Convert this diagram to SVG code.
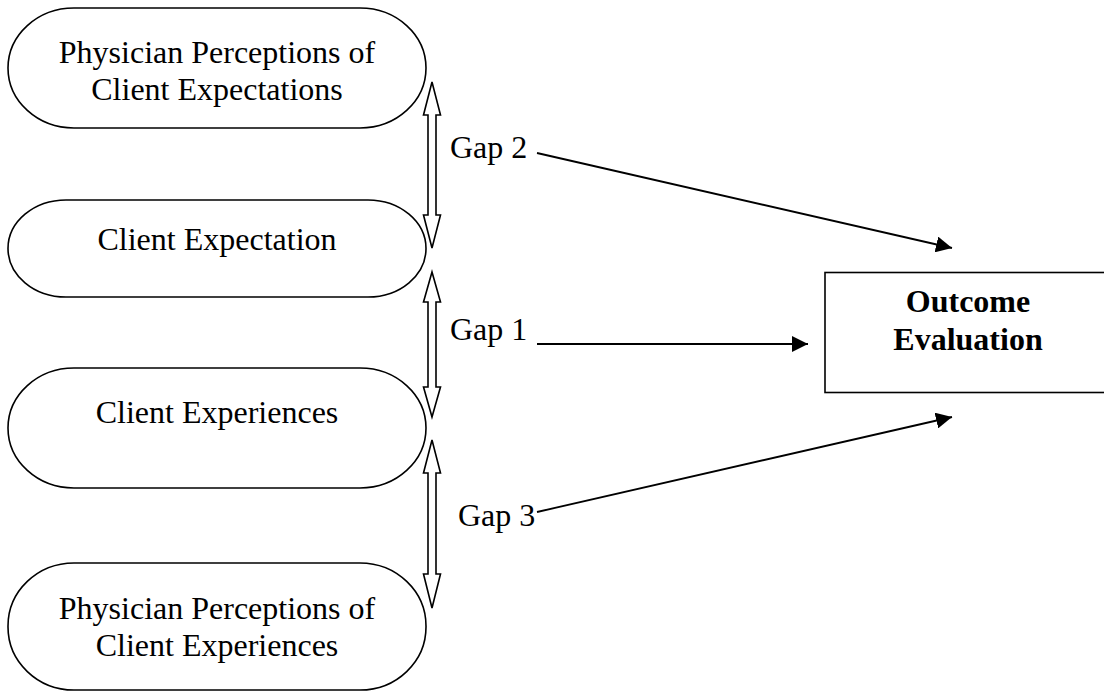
<svg xmlns="http://www.w3.org/2000/svg" width="1104" height="692" viewBox="0 0 1104 692">
<defs>
<style>
.node{fill:#fff;stroke:#000;stroke-width:1.6}
.t{font-family:"Liberation Serif","Times New Roman",serif;font-size:32px;fill:#000;text-anchor:middle}
.b{font-weight:bold}
.g{font-family:"Liberation Serif","Times New Roman",serif;font-size:32px;fill:#000}
.dbl{fill:#fff;stroke:#000;stroke-width:1.6;stroke-linejoin:miter}
.con{stroke:#000;stroke-width:1.8;fill:none}
</style>
<marker id="ah" viewBox="0 0 16 16" refX="16" refY="8" markerWidth="16" markerHeight="16" markerUnits="userSpaceOnUse" orient="auto">
<path d="M0,0 L16,8 L0,16 Z" fill="#000"/>
</marker>
</defs>
<rect width="1104" height="692" fill="#fff"/>

<g id="node-physician-expectations">
<rect class="node" x="8" y="8" width="418" height="120" rx="66" ry="60"/>
<text class="t" x="217" y="63">Physician Perceptions of</text>
<text class="t" x="217" y="100">Client Expectations</text>
</g>

<g id="node-client-expectation">
<rect class="node" x="8" y="200" width="418" height="97" rx="58" ry="48.5"/>
<text class="t" x="217" y="250">Client Expectation</text>
</g>

<g id="node-client-experiences">
<rect class="node" x="8" y="368" width="418" height="120" rx="66" ry="60"/>
<text class="t" x="217" y="423">Client Experiences</text>
</g>

<g id="node-physician-experiences">
<rect class="node" x="8" y="563" width="418" height="127" rx="66" ry="63"/>
<text class="t" x="217" y="619">Physician Perceptions of</text>
<text class="t" x="217" y="656">Client Experiences</text>
</g>

<g id="node-outcome">
<rect class="node" x="825" y="272.5" width="290" height="120" stroke-width="2"/>
<text class="t b" x="968" y="312">Outcome</text>
<text class="t b" x="968" y="350">Evaluation</text>
</g>

<g id="connectors">
<path class="dbl" d="M432,82 L440.5,115 L436,115 L436,215 L440.5,215 L432,248 L423.5,215 L428,215 L428,115 L423.5,115 Z"/>
<path class="dbl" d="M432,272 L440.5,302 L436,302 L436,387 L440.5,387 L432,417 L423.5,387 L428,387 L428,302 L423.5,302 Z"/>
<path class="dbl" d="M432,440 L440.5,473 L436,473 L436,574 L440.5,574 L432,608 L423.5,574 L428,574 L428,473 L423.5,473 Z"/>
<line class="con" x1="537" y1="153" x2="952" y2="248" marker-end="url(#ah)"/>
<line class="con" x1="537" y1="344" x2="808" y2="344" marker-end="url(#ah)"/>
<line class="con" x1="537" y1="512" x2="952" y2="417" marker-end="url(#ah)"/>
</g>

<g id="labels">
<text class="g" x="450" y="158">Gap 2</text>
<text class="g" x="450" y="340">Gap 1</text>
<text class="g" x="458" y="526">Gap 3</text>
</g>
</svg>
